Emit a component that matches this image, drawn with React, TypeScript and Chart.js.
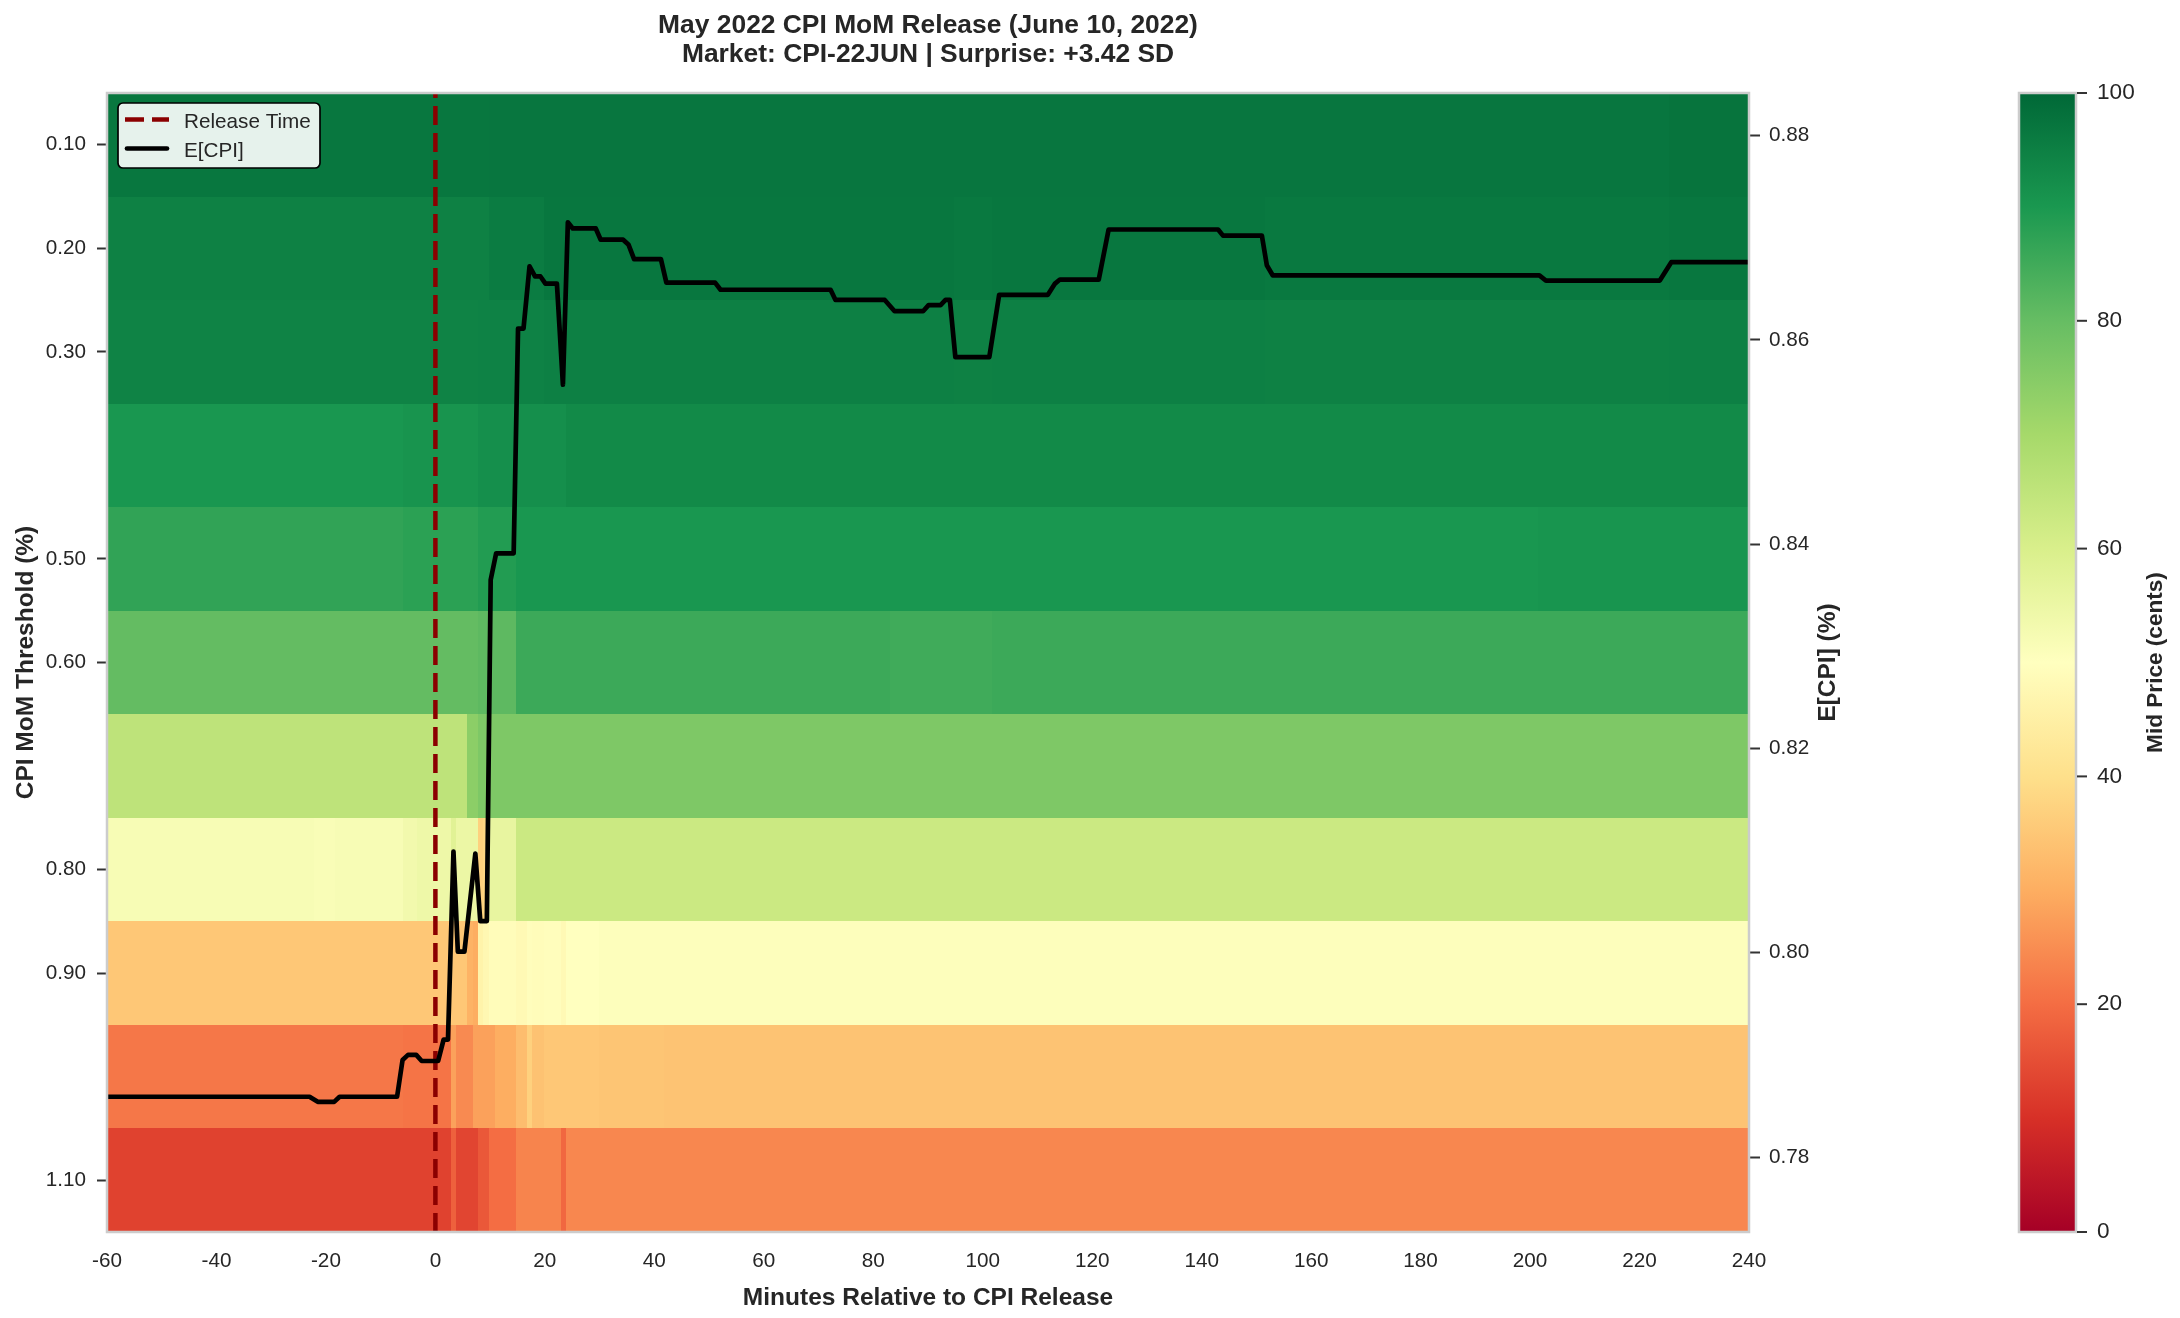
import React, { useEffect, useRef } from "react";
import { Chart, registerables } from "chart.js";

Chart.register(...registerables);

// ---------------- data ----------------
const titleLine1 = "May 2022 CPI MoM Release (June 10, 2022)";
const titleLine2 = "Market: CPI-22JUN | Surprise: +3.42 SD";
const xTitle = "Minutes Relative to CPI Release";
const yTitle = "CPI MoM Threshold (%)";
const y2Title = "E[CPI] (%)";
const cbTitle = "Mid Price (cents)";

const thresholds = [0.1, 0.2, 0.3, 0.4, 0.5, 0.6, 0.7, 0.8, 0.9, 1.0, 1.1];
const yTickValues = [0.1, 0.2, 0.3, 0.5, 0.6, 0.8, 0.9, 1.1];
const y2TickValues = [0.78, 0.8, 0.82, 0.84, 0.86, 0.88];
const colorbarTicks = [0, 20, 40, 60, 80, 100];
const releaseMinute = 0;

// time bin edges (minutes relative to release)
const timeEdges = [-60, -22.2, -18.3, -6.0, -3.4, 0.4, 2.9, 3.8, 5.8, 6.8, 7.8, 8.7, 9.8, 10.8, 14.8, 16.8, 17.7, 19.8, 22.9, 23.8, 24.7, 29.8, 41.7, 83, 94.8, 101.7, 151.5, 201.5, 225.4, 240];

// mid price (cents) per threshold row, one value per time bin
const price010 = [96.8, 96.8, 96.8, 96.8, 96.8, 96.8, 96.8, 96.8, 96.8, 96.8, 96.8, 96.8, 97, 97, 97, 97, 97, 97, 97, 97, 97, 97, 97, 97, 97, 97, 97, 97, 97.5];
const price020 = [94.8, 94.8, 94.8, 94.8, 94.8, 94.8, 94.8, 94.8, 94.8, 94.8, 94.8, 94.8, 95.8, 95.8, 95.8, 95.8, 95.8, 96.8, 96.8, 96.8, 96.8, 96.8, 96.8, 96.8, 96.4, 96.8, 96.4, 96.4, 96.8];
const price030 = [94.3, 94.3, 94.3, 94.3, 94.3, 94.3, 94.3, 94.3, 94.3, 94.3, 94.6, 94.6, 94.6, 94.6, 94.6, 94.6, 94.6, 95, 95, 95, 95, 95, 95, 95, 94.8, 95, 94.8, 94.8, 95];
const price040 = [90.2, 90.2, 90.2, 90.8, 90.8, 90.8, 90.8, 90.8, 90.8, 90.8, 91.8, 91.8, 91.8, 91.8, 91.8, 91.8, 91.8, 91.8, 91.8, 93, 93, 93, 93, 93, 93, 93, 93, 93, 93];
const price050 = [87, 87, 87, 87.7, 87.7, 87.7, 87.7, 87.7, 87.7, 87.7, 89, 89, 89, 89, 90.2, 90.2, 90.2, 90.2, 90.2, 90.2, 90.2, 90.2, 90.2, 90.2, 90.2, 90.2, 90.2, 90.6, 90.6];
const price060 = [80.3, 80.3, 80.3, 80.3, 80.3, 80.3, 80.3, 80.3, 80.3, 80.3, 81, 81, 81, 81, 85.5, 85.5, 85.5, 85.5, 85.5, 85.5, 85.5, 85.5, 85.5, 85, 85, 85.5, 85.5, 85.5, 85.5];
const price070 = [65.3, 65.3, 65.3, 65.3, 65.3, 65.3, 65.3, 65.3, 74, 74, 76.2, 76.2, 76.2, 76.2, 76.2, 76.2, 76.2, 76.2, 76.2, 76.2, 76.2, 76.2, 76.2, 76.2, 76.2, 76.2, 76.2, 76.2, 76.2];
const price080 = [52, 51.5, 52, 53.5, 54.5, 54.5, 58, 55, 55, 55, 37, 38, 56, 56, 62.8, 62.8, 62.8, 62.8, 62.8, 62.8, 62.8, 62.8, 62.8, 62.8, 62.8, 62.8, 62.8, 62.8, 62.8];
const price090 = [35, 35, 35, 35, 35, 35, 35, 35, 31, 30, 46, 47.5, 49, 49, 48, 49.5, 49, 49.5, 48, 50, 50, 50.5, 50.5, 50.5, 50.5, 50.5, 50.5, 50.5, 50.5];
const price100 = [21.5, 21.5, 21.5, 21, 21, 21, 28, 24.5, 24.5, 28, 28, 28, 28, 30, 33, 37, 34, 35, 35, 35, 35, 34.5, 34.2, 34.2, 34.2, 34.2, 34.2, 34.2, 34.2];
const price110 = [13, 13, 13, 13, 13, 13, 18, 13.5, 13.5, 13.5, 16.5, 16.5, 20, 20, 23.5, 23.5, 23.5, 23.5, 19, 24, 24, 24, 24, 24, 24, 24, 24, 24, 24];
const priceRows = [price010, price020, price030, price040, price050, price060, price070, price080, price090, price100, price110];

// expected CPI (right axis)
const ecpiMinutes = [-60, -23, -21.5, -18.5, -17.5, -7, -6, -5, -3.5, -2.5, 0.5, 1.5, 2.3, 3.3, 4.1, 5.3, 7.3, 8.2, 9.4, 10.1, 11.1, 14.3, 15.1, 16.1, 17.2, 18.2, 19.2, 20.1, 22.2, 23.3, 24.2, 25.1, 29.3, 30.2, 34.3, 35.3, 36.3, 41.2, 42.2, 51.1, 52.1, 72.2, 73.1, 82.1, 83.9, 89.1, 90.1, 92.3, 93.2, 94.0, 95.0, 101.2, 103.0, 111.9, 113.2, 114.1, 121.2, 123.0, 143.0, 143.9, 151.0, 151.9, 153.0, 201.7, 202.9, 223.7, 225.8, 240];
const ecpiValues = [0.7859, 0.7859, 0.7854, 0.7854, 0.7859, 0.7859, 0.7895, 0.79, 0.79, 0.7894, 0.7894, 0.7915, 0.7915, 0.8099, 0.8001, 0.8001, 0.8097, 0.8031, 0.8031, 0.8365, 0.8391, 0.8391, 0.8611, 0.8611, 0.8672, 0.8662, 0.8662, 0.8655, 0.8655, 0.8556, 0.8715, 0.8709, 0.8709, 0.8698, 0.8698, 0.8693, 0.8679, 0.8679, 0.8656, 0.8656, 0.8649, 0.8649, 0.8639, 0.8639, 0.8628, 0.8628, 0.8634, 0.8634, 0.8639, 0.8639, 0.8583, 0.8583, 0.8644, 0.8644, 0.8655, 0.8659, 0.8659, 0.8708, 0.8708, 0.8702, 0.8702, 0.8673, 0.8663, 0.8663, 0.8658, 0.8658, 0.8676, 0.8676];
const ecpiAxisMin = 0.77266;
const ecpiAxisMax = 0.88416;

// ---------------- styling ----------------
const W = 2180;
const H = 1318;
const FONT = '"Liberation Sans", Arial, Helvetica, sans-serif';
const TEXT = "#262626";
const RDYLGN = [
  [165, 0, 38], [215, 48, 39], [244, 109, 67], [253, 174, 97], [254, 224, 139], [255, 255, 191],
  [217, 239, 139], [166, 217, 106], [102, 189, 99], [26, 152, 80], [0, 104, 55],
];

function rdylgn(v: number): string {
  const t = Math.min(1, Math.max(0, v / 100)) * 10;
  const i = Math.min(9, Math.floor(t));
  const f = t - i;
  const a = RDYLGN[i];
  const b = RDYLGN[i + 1];
  const c = a.map((ai, k) => Math.round(ai + (b[k] - ai) * f));
  return `rgb(${c[0]},${c[1]},${c[2]})`;
}

const rowHalf = 0.05;

const heatmapPlugin = {
  id: "heatmapAndDecor",
  beforeDraw(chart: any) {
    const { ctx } = chart;
    ctx.save();
    ctx.fillStyle = "#ffffff";
    ctx.fillRect(0, 0, chart.width, chart.height);
    ctx.restore();
  },
  beforeDatasetsDraw(chart: any) {
    const { ctx } = chart;
    const x = chart.scales.x;
    const y = chart.scales.y;
    ctx.save();
    thresholds.forEach((thr, r) => {
      const row = priceRows[r];
      const yTop = Math.round(y.getPixelForValue(thr - rowHalf));
      const yBot = Math.round(y.getPixelForValue(thr + rowHalf));
      for (let c = 0; c < row.length; c++) {
        const x0 = Math.round(x.getPixelForValue(timeEdges[c]));
        const x1 = Math.round(x.getPixelForValue(timeEdges[c + 1]));
        ctx.fillStyle = rdylgn(row[c]);
        ctx.fillRect(x0, yTop, x1 - x0, yBot - yTop);
      }
    });
    ctx.restore();
  },
  afterDatasetsDraw(chart: any) {
    const { ctx, chartArea: a } = chart;
    ctx.save();
    ctx.strokeStyle = "#cccccc";
    ctx.lineWidth = 2.5;
    ctx.strokeRect(a.left, a.top, a.right - a.left, a.bottom - a.top);
    ctx.restore();
  },
  afterDraw(chart: any) {
    const { ctx, chartArea: a } = chart;
    ctx.save();
    const cx = (a.left + a.right) / 2;
    const cy = (a.top + a.bottom) / 2;

    // title
    ctx.fillStyle = TEXT;
    ctx.textAlign = "center";
    ctx.textBaseline = "alphabetic";
    ctx.font = `bold 26.4px ${FONT}`;
    ctx.fillText(titleLine1, cx, 33.3);
    ctx.fillText(titleLine2, cx, 61.6);

    // x title
    ctx.font = `bold 24.5px ${FONT}`;
    ctx.fillText(xTitle, cx, 1305);

    // left y title
    ctx.save();
    ctx.translate(33.3, cy);
    ctx.rotate(-Math.PI / 2);
    ctx.fillText(yTitle, 0, 0);
    ctx.restore();

    // right y title
    ctx.save();
    ctx.translate(1835, cy);
    ctx.rotate(-Math.PI / 2);
    ctx.fillText(y2Title, 0, 0);
    ctx.restore();

    // legend
    const lx = 118, ly = 103, lw = 202, lh = 65;
    ctx.beginPath();
    ctx.roundRect(lx, ly, lw, lh, 5);
    ctx.fillStyle = "rgba(255,255,255,0.9)";
    ctx.fill();
    ctx.lineWidth = 1.7;
    ctx.strokeStyle = "#000000";
    ctx.stroke();

    ctx.beginPath();
    ctx.setLineDash([19, 8]);
    ctx.lineWidth = 4.5;
    ctx.strokeStyle = "#8b0000";
    ctx.moveTo(125, 119.5);
    ctx.lineTo(169, 119.5);
    ctx.stroke();
    ctx.setLineDash([]);

    ctx.beginPath();
    ctx.lineWidth = 4.7;
    ctx.lineCap = "round";
    ctx.strokeStyle = "#000000";
    ctx.moveTo(127, 148.5);
    ctx.lineTo(167, 148.5);
    ctx.stroke();
    ctx.lineCap = "butt";

    ctx.fillStyle = TEXT;
    ctx.textAlign = "left";
    ctx.font = `20.7px ${FONT}`;
    ctx.fillText("Release Time", 184, 127.6);
    ctx.fillText("E[CPI]", 184, 156.5);

    // colorbar
    const cbL = 2019, cbR = 2076, cbT = a.top, cbB = a.bottom;
    const grad = ctx.createLinearGradient(0, cbB, 0, cbT);
    RDYLGN.forEach((c, i) => grad.addColorStop(i / 10, `rgb(${c[0]},${c[1]},${c[2]})`));
    ctx.fillStyle = grad;
    ctx.fillRect(cbL, cbT, cbR - cbL, cbB - cbT);
    ctx.strokeStyle = "#cccccc";
    ctx.lineWidth = 2.5;
    ctx.strokeRect(cbL, cbT, cbR - cbL, cbB - cbT);

    ctx.font = `22.6px ${FONT}`;
    ctx.textBaseline = "middle";
    ctx.textAlign = "left";
    colorbarTicks.forEach((v) => {
      const ty = cbB - (v / 100) * (cbB - cbT);
      ctx.beginPath();
      ctx.strokeStyle = "#333333";
      ctx.lineWidth = 2;
      ctx.moveTo(cbR + 1, ty);
      ctx.lineTo(cbR + 11, ty);
      ctx.stroke();
      ctx.fillStyle = TEXT;
      ctx.fillText(String(v), 2097, ty);
    });

    ctx.textBaseline = "alphabetic";
    ctx.textAlign = "center";
    ctx.font = `bold 22.6px ${FONT}`;
    ctx.save();
    ctx.translate(2161.5, cy);
    ctx.rotate(-Math.PI / 2);
    ctx.fillText(cbTitle, 0, 0);
    ctx.restore();

    ctx.restore();
  },
};

const tickFont = { family: FONT, size: 20.7 };

export default function App() {
  const ref = useRef<HTMLCanvasElement>(null);

  useEffect(() => {
    const canvas = ref.current;
    if (!canvas) return;
    const chart = new Chart(canvas, {
      type: "line",
      data: {
        datasets: [
          {
            label: "E[CPI]",
            data: ecpiMinutes.map((m, i) => ({ x: m, y: ecpiValues[i] })),
            xAxisID: "x",
            yAxisID: "y2",
            borderColor: "#000000",
            borderWidth: 4.7,
            pointRadius: 0,
            tension: 0,
            borderJoinStyle: "round",
            fill: false,
            order: 1,
          } as any,
          {
            label: "Release Time",
            data: [
              { x: releaseMinute, y: ecpiAxisMin },
              { x: releaseMinute, y: ecpiAxisMax },
            ],
            xAxisID: "x",
            yAxisID: "y2",
            borderColor: "#8b0000",
            borderWidth: 4.5,
            borderDash: [19, 8],
            pointRadius: 0,
            fill: false,
            order: 2,
          } as any,
        ],
      },
      options: {
        responsive: false,
        animation: false,
        devicePixelRatio: 1,
        events: [],
        layout: { padding: { left: 0, top: 93, right: 351, bottom: 0 } },
        plugins: {
          legend: { display: false },
          tooltip: { enabled: false },
          title: { display: false },
        },
        scales: {
          x: {
            type: "linear",
            position: "bottom",
            bounds: "data",
            min: -60,
            max: 240,
            ticks: {
              stepSize: 20,
              padding: 17,
              font: tickFont,
              color: TEXT,
              autoSkip: false,
              maxRotation: 0,
              minRotation: 0,
              callback: (v: any) => String(v),
            },
            grid: { display: false, drawTicks: false },
            border: { display: false },
            afterFit: (s: any) => {
              s.height = 86;
            },
          },
          y: {
            type: "linear",
            position: "left",
            bounds: "data",
            reverse: true,
            min: 0.05,
            max: 1.15,
            afterBuildTicks: (s: any) => {
              s.ticks = yTickValues.map((v) => ({ value: v }));
            },
            ticks: {
              padding: 11,
              font: tickFont,
              color: TEXT,
              autoSkip: false,
              callback: (v: any) => Number(v).toFixed(2),
            },
            grid: { drawOnChartArea: false, drawTicks: true, tickLength: 10, tickWidth: 2, tickColor: "#333333" },
            border: { display: false },
            afterFit: (s: any) => {
              s.width = 107;
            },
          },
          y2: {
            type: "linear",
            position: "right",
            bounds: "data",
            min: ecpiAxisMin,
            max: ecpiAxisMax,
            afterBuildTicks: (s: any) => {
              s.ticks = y2TickValues.map((v) => ({ value: v }));
            },
            ticks: {
              padding: 9,
              font: tickFont,
              color: TEXT,
              autoSkip: false,
              callback: (v: any) => Number(v).toFixed(2),
            },
            grid: { drawOnChartArea: false, drawTicks: true, tickLength: 11, tickWidth: 2, tickColor: "#333333" },
            border: { display: false },
            afterFit: (s: any) => {
              s.width = 80;
            },
          },
        },
      } as any,
      plugins: [heatmapPlugin],
    });
    return () => chart.destroy();
  }, []);

  return (
    <div style={{ position: "fixed", left: 0, top: 0, width: W, height: H, background: "#ffffff" }}>
      <canvas ref={ref} width={W} height={H} style={{ display: "block", width: W, height: H }} />
    </div>
  );
}
